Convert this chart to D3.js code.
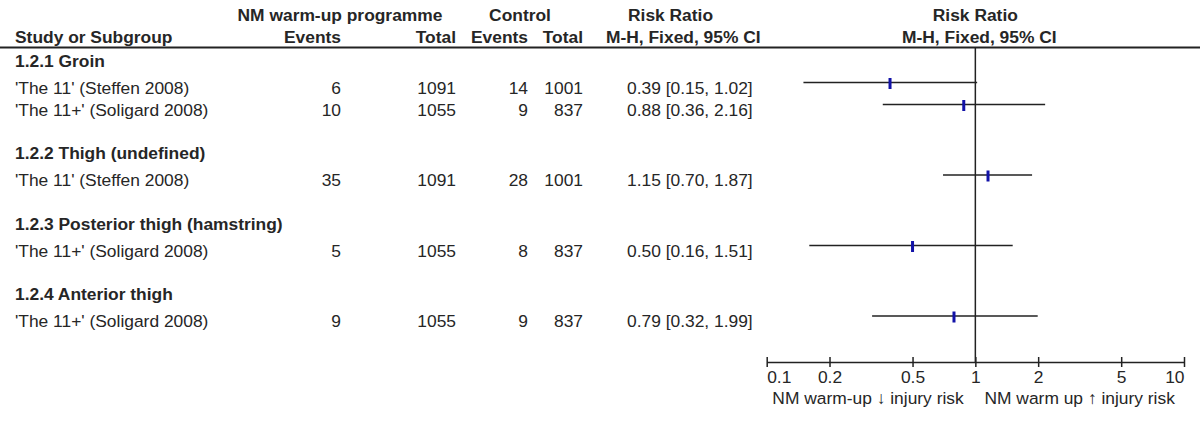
<!DOCTYPE html>
<html>
<head>
<meta charset="utf-8">
<script src="https://cdn.jsdelivr.net/npm/d3@7"></script>
<style>
  body { margin: 0; background: #fff; }
  svg { display: block; font-family: "Liberation Sans", Arial, sans-serif; }
</style>
</head>
<body>
<script>
// DATA
var groups = ['1.2.1 Groin', '1.2.2 Thigh (undefined)', '1.2.3 Posterior thigh (hamstring)', '1.2.4 Anterior thigh'];
var studyGroup = [0, 0, 1, 2, 3];
var studyNames = ["'The 11' (Steffen 2008)", "'The 11+' (Soligard 2008)", "'The 11' (Steffen 2008)", "'The 11+' (Soligard 2008)", "'The 11+' (Soligard 2008)"];
var eventsNM = [6, 10, 35, 5, 9];
var totalNM = [1091, 1055, 1091, 1055, 1055];
var eventsCtl = [14, 9, 28, 8, 9];
var totalCtl = [1001, 837, 1001, 837, 837];
var rr = [0.39, 0.88, 1.15, 0.50, 0.79];
var ciLow = [0.15, 0.36, 0.70, 0.16, 0.32];
var ciHigh = [1.02, 2.16, 1.87, 1.51, 1.99];
var tickValues = [0.1, 0.2, 0.5, 1, 2, 5, 10];
var axisLabels = ['NM warm-up \u2193 injury risk', 'NM warm up \u2191 injury risk'];

// SETTINGS
var width = 1200, height = 422;
var fontSize = 17.4;
var textColor = '#262626';
var lineColor = '#222';
var markColor = '#1212a8';
var layout = { firstHeader: 66.5, headerToStudy: 27, studyStep: 22, studyToHeader: 43.5 };
var cols = { label: 15, evNM: 341, totNM: 456, evCtl: 528, totCtl: 583, est: 627 };

var svg = d3.select('body').append('svg')
   .attr('width', width)
   .attr('height', height);

// ROW LAYOUT (baselines)
var rows = [];
var y = layout.firstHeader;
groups.forEach(function (g, gi) {
   if (gi > 0) y += layout.studyToHeader;
   rows.push({ type: 'header', text: g, y: y });
   var first = true;
   studyGroup.forEach(function (sg, si) {
      if (sg !== gi) return;
      y += first ? layout.headerToStudy : layout.studyStep;
      first = false;
      rows.push({ type: 'study', i: si, y: y });
   });
});

// SCALE
var x = d3.scaleLog().domain([0.1, 10]).range([766.7, 1184]);
var axisY = 362;
var headerLineY = 47.5;

function txt(xp, yp, s, anchor, bold) {
   return svg.append('text')
      .attr('x', xp).attr('y', yp)
      .attr('font-size', fontSize)
      .attr('font-weight', bold ? 'bold' : 'normal')
      .attr('fill', textColor)
      .attr('text-anchor', anchor || 'start')
      .text(s);
}

// COLUMN HEADERS
txt(340, 20.5, 'NM warm-up programme', 'middle', true);
txt(520, 20.5, 'Control', 'middle', true);
txt(628, 20.5, 'Risk Ratio', 'start', true);
txt(x(1), 20.5, 'Risk Ratio', 'middle', true);
txt(cols.label, 43, 'Study or Subgroup', 'start', true);
txt(cols.evNM, 43, 'Events', 'end', true);
txt(cols.totNM, 43, 'Total', 'end', true);
txt(cols.evCtl, 43, 'Events', 'end', true);
txt(cols.totCtl, 43, 'Total', 'end', true);
txt(606, 43, 'M-H, Fixed, 95% CI', 'start', true);
txt(x(1) + 4, 43, 'M-H, Fixed, 95% CI', 'middle', true);

svg.append('line')
   .attr('x1', 0).attr('x2', width)
   .attr('y1', headerLineY).attr('y2', headerLineY)
   .attr('stroke', lineColor).attr('stroke-width', 2);

// LINE OF NO EFFECT
svg.append('line')
   .attr('x1', x(1)).attr('x2', x(1))
   .attr('y1', headerLineY).attr('y2', axisY)
   .attr('stroke', lineColor).attr('stroke-width', 1.5);

// ROWS
rows.forEach(function (r) {
   if (r.type === 'header') {
      txt(cols.label, r.y, r.text, 'start', true);
      return;
   }
   var i = r.i;
   txt(cols.label, r.y, studyNames[i]);
   txt(cols.evNM, r.y, eventsNM[i], 'end');
   txt(cols.totNM, r.y, totalNM[i], 'end');
   txt(cols.evCtl, r.y, eventsCtl[i], 'end');
   txt(cols.totCtl, r.y, totalCtl[i], 'end');
   txt(cols.est, r.y, d3.format('.2f')(rr[i]) + ' [' + d3.format('.2f')(ciLow[i]) + ', ' + d3.format('.2f')(ciHigh[i]) + ']');

   var ly = r.y - 11;
   svg.append('line')
      .attr('x1', x(ciLow[i])).attr('x2', x(ciHigh[i]))
      .attr('y1', ly).attr('y2', ly)
      .attr('stroke', lineColor).attr('stroke-width', 1.5);
   svg.append('rect')
      .attr('x', x(rr[i]) - 1.5).attr('y', ly - 4.5)
      .attr('width', 3).attr('height', 11)
      .attr('fill', markColor);
});

// AXIS
var axis = svg.append('g')
   .attr('transform', 'translate(0,' + axisY + ')')
   .call(d3.axisBottom(x).tickValues(tickValues).tickSize(0).tickFormat(d3.format('')));
axis.select('.domain').attr('stroke', lineColor).attr('stroke-width', 1.5);
axis.selectAll('.tick line')
   .attr('y1', -5).attr('y2', 5)
   .attr('stroke', lineColor).attr('stroke-width', 1.5);
axis.selectAll('.tick text')
   .attr('y', 21).attr('dy', null)
   .attr('font-size', fontSize)
   .attr('font-family', '"Liberation Sans", Arial, sans-serif')
   .attr('fill', textColor)
   .attr('text-anchor', function (d, k) { return k === 0 ? 'start' : (k === tickValues.length - 1 ? 'end' : 'middle'); });

txt((x(0.1) + x(1)) / 2 - 3, 404, axisLabels[0], 'middle');
txt((x(1) + x(10)) / 2, 404, axisLabels[1], 'middle');
</script>
</body>
</html>
